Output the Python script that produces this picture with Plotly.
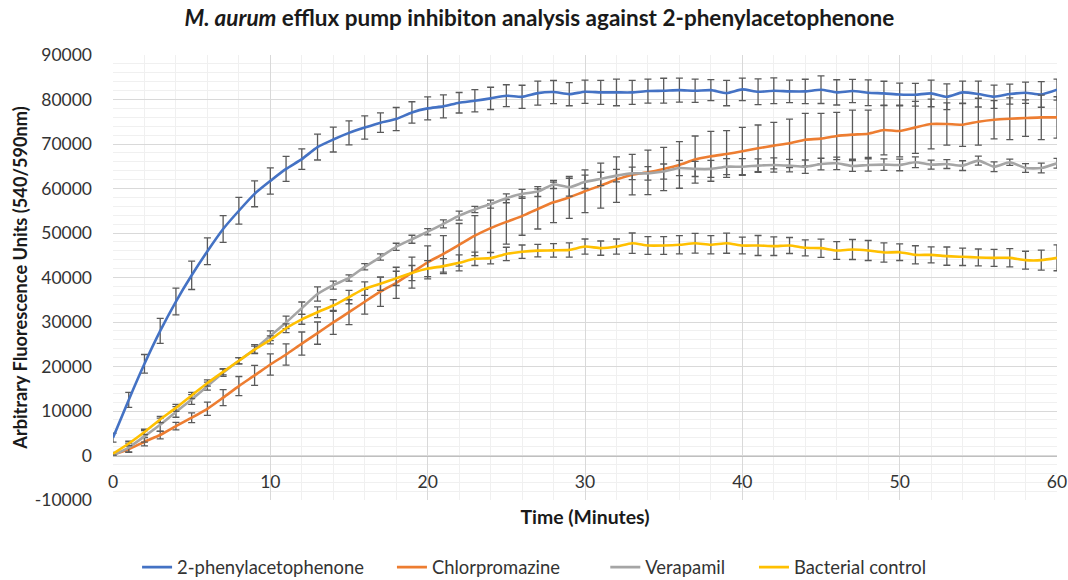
import plotly.graph_objects as go

minutes = list(range(0, 61))

phenylacetophenone = [4000, 12500, 20600, 28000, 34600, 40500, 45900, 50900, 55000, 58800,
                      61700, 64400, 66600, 69300, 71000, 72500, 73700, 74800, 75600, 77100,
                      78000, 78450, 79270, 79700, 80250, 80850, 80600, 81440, 81670, 81200,
                      81740, 81600, 81600, 81600, 81900, 81970, 82100, 81970, 82100, 81440,
                      82270, 81740, 81970, 81820, 81820, 82200, 81600, 81900, 81520, 81370,
                      81140, 81070, 81370, 80620, 81600, 81220, 80620, 81220, 81520, 81140,
                      82200]
phenylacetophenone_err = [1000, 1700, 2100, 2800, 3000, 3200, 3000, 3000, 3000, 2900,
                          2950, 2800, 2300, 2900, 2800, 2700, 2600, 2200, 2600, 2400,
                          2600, 2600, 2300, 2500, 2500, 2470, 2600, 2700, 2600, 2600,
                          2600, 2700, 3000, 2700, 2700, 2800, 2700, 2600, 2360, 2840,
                          2540, 2900, 2880, 2540, 2730, 3100, 2840, 2620, 2900, 2730,
                          2540, 2540, 3000, 2880, 2540, 2900, 2600, 2250, 2400, 2880,
                          2360]

chlorpromazine = [200, 1400, 3100, 4600, 6600, 8500, 10500, 13000, 15600, 18000,
                  20450, 22700, 25150, 27500, 29900, 32200, 34550, 36800, 38800, 41100,
                  43400, 45300, 47340, 49400, 51100, 52500, 53800, 55400, 56900, 58000,
                  59400, 60650, 62000, 63100, 63640, 64400, 65300, 66500, 67230, 67760,
                  68350, 69030, 69630, 70150, 70970, 71200, 71800, 72100, 72320, 73140,
                  72920, 73740, 74490, 74490, 74340, 75010, 75460, 75680, 75830, 75980,
                  75980]
chlorpromazine_err = [300, 700, 950, 850, 850, 1100, 1500, 1800, 2150, 2250,
                      2400, 2400, 2600, 2500, 2700, 2800, 2800, 3300, 3500, 3500,
                      3700, 4100, 4800, 4500, 5500, 5000, 4300, 4500, 4550, 4700,
                      4800, 5050, 5100, 4550, 5000, 4860, 5240, 5300, 5600, 5250,
                      5380, 5240, 5240, 5460, 5900, 5680, 5310, 5530, 5310, 5600,
                      5830, 5830, 5600, 4750, 4860, 5270, 4300, 4700, 4100, 5000,
                      4640]

verapamil = [0, 1800, 4300, 6900, 9800, 12600, 15600, 18600, 21300, 23900,
             26900, 29900, 33100, 36300, 38300, 39900, 42400, 44600, 46900, 48600,
             50300, 52050, 53900, 55300, 56500, 57800, 58800, 59300, 60900, 60300,
             61500, 62150, 62900, 63400, 63400, 63800, 64600, 64400, 64400, 64900,
             64900, 65140, 65290, 65140, 64900, 65500, 65660, 65060, 65290, 65360,
             65290, 65890, 65360, 65500, 65140, 66260, 64900, 65890, 64610, 64610,
             65660]
verapamil_err = [200, 1000, 1300, 1500, 1200, 1100, 900, 800, 700, 1000,
                 1100, 1400, 1400, 1600, 900, 700, 700, 700, 800, 900,
                 700, 900, 1000, 700, 900, 1000, 1000, 1100, 900, 2000,
                 1500, 1500, 1400, 1400, 1500, 1700, 1700, 1700, 1900, 1800,
                 1800, 1500, 1600, 1400, 1500, 1300, 1400, 1200, 1400, 1300,
                 1300, 1200, 1000, 1000, 1100, 1000, 1100, 700, 1000, 1100,
                 1100]

bacterial_control = [400, 2700, 5300, 8100, 10700, 13500, 16300, 18800, 21300, 23800,
                     26000, 28600, 30600, 32200, 33700, 35600, 37500, 38600, 39800, 41000,
                     42000, 42550, 43300, 44200, 44350, 45300, 45800, 46050, 46100, 46200,
                     46950, 46600, 46950, 47700, 47200, 47200, 47350, 47700, 47340, 47700,
                     47190, 47190, 47040, 47190, 46670, 46590, 46070, 46290, 46070, 45620,
                     45690, 45090, 45090, 44800, 44650, 44500, 44420, 44420, 43900, 43900,
                     44420]
bacterial_control_err = [300, 500, 600, 700, 800, 700, 700, 700, 700, 800,
                         900, 1000, 1100, 1200, 1300, 1500, 1500, 1500, 1600, 1700,
                         1800, 1700, 1800, 1500, 1300, 1500, 1500, 1400, 1500, 1600,
                         1700, 1600, 1700, 2300, 2000, 2000, 2050, 2200, 2050, 2250,
                         1870, 2250, 2100, 1800, 1800, 2050, 2000, 2250, 2250, 2170,
                         1870, 2050, 1800, 2050, 1950, 1900, 1900, 2050, 2000, 2250,
                         2900]

series_names = ["2-phenylacetophenone", "Chlorpromazine", "Verapamil", "Bacterial control"]
series_values = [phenylacetophenone, chlorpromazine, verapamil, bacterial_control]
series_errors = [phenylacetophenone_err, chlorpromazine_err, verapamil_err, bacterial_control_err]
series_colors = ["#4472C4", "#ED7D31", "#A5A5A5", "#FFC000"]

x_ticks = [0, 10, 20, 30, 40, 50, 60]
y_ticks = [-10000, 0, 10000, 20000, 30000, 40000, 50000, 60000, 70000, 80000, 90000]

FONT = "Lato"
legend_ids = ["legend", "legend2", "legend3", "legend4"]
legend_x = [0.0255, 0.2955, 0.5215, 0.679]

fig = go.Figure()
for name, vals, errs, col, lid in zip(series_names, series_values, series_errors,
                                      series_colors, legend_ids):
    fig.add_trace(go.Scatter(
        x=minutes, y=vals, name=name, mode="lines", legend=lid,
        line=dict(color=col, width=2.6, shape="spline", smoothing=0.6),
        error_y=dict(type="data", array=errs, visible=True,
                     color="#5a5a5a", thickness=1.3, width=3.5),
    ))

legend_common = dict(orientation="h", xanchor="left", y=-0.151, yanchor="middle",
                     font=dict(family=FONT, size=18.4, color="#333333"),
                     itemwidth=30, bgcolor="rgba(0,0,0,0)")

fig.update_layout(
    width=1068, height=580,
    margin=dict(l=113, r=11, t=55, b=80, autoexpand=False),
    paper_bgcolor="white", plot_bgcolor="white",
    font=dict(family=FONT, size=17, color="#333333"),
    title=dict(
        text="<b><i>M. aurum</i> efflux pump inhibiton analysis against 2-phenylacetophenone</b>",
        x=0.505, xanchor="center", y=0.968, yanchor="middle",
        font=dict(family=FONT, size=22.5, color="#1a1a1a"),
    ),
    showlegend=True,
    legend=dict(x=legend_x[0], **legend_common),
    legend2=dict(x=legend_x[1], **legend_common),
    legend3=dict(x=legend_x[2], **legend_common),
    legend4=dict(x=legend_x[3], **legend_common),
    xaxis=dict(
        range=[0, 60], tickvals=x_ticks, ticktext=[str(v) for v in x_ticks],
        anchor="free", position=0.1, automargin=False,
        showline=True, linecolor="#bfbfbf", linewidth=1.2,
        showgrid=True, gridcolor="#d9d9d9", gridwidth=1,
        minor=dict(dtick=2, showgrid=True, gridcolor="#f0f0f0", gridwidth=1),
        zeroline=False, ticks="", ticklabelstandoff=10,
        tickfont=dict(family=FONT, size=17.5, color="#333333"),
        title=dict(text="<b>Time (Minutes)</b>", standoff=19,
                   font=dict(family=FONT, size=19.4, color="#1a1a1a")),
    ),
    yaxis=dict(
        range=[-10000, 90000], tickvals=y_ticks, ticktext=[str(v) for v in y_ticks],
        automargin=False,
        showgrid=True, gridcolor="#d9d9d9", gridwidth=1,
        minor=dict(dtick=2000, showgrid=True, gridcolor="#f0f0f0", gridwidth=1),
        zeroline=False, showline=False, ticks="",
        ticklabelstandoff=20,
        tickfont=dict(family=FONT, size=17.5, color="#333333"),
        title=dict(text="<b>Arbitrary Fluorescence Units (540/590nm)</b>", standoff=2,
                   font=dict(family=FONT, size=18.2, color="#1a1a1a")),
    ),
)

fig.write_html("out.html", config={"displayModeBar": False},
               post_script="document.body.style.margin='0px';")
